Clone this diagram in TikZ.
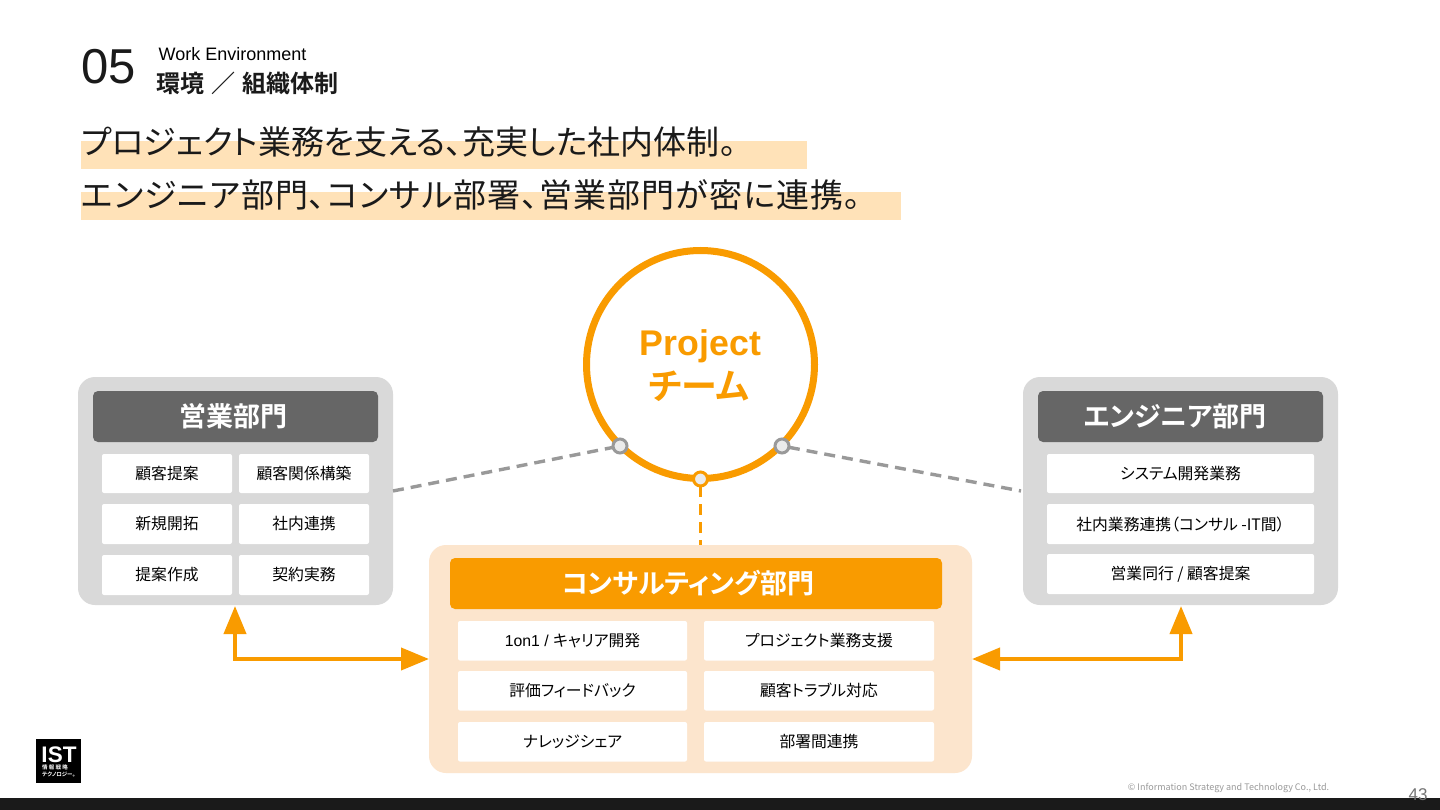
\documentclass[tikz,border=0pt]{standalone}
\usepackage{fontspec}
\setmainfont{Liberation Sans}
\newfontfamily\jp[RawFeature=+palt,BoldFont={Noto Sans CJK JP Bold}]{Noto Sans CJK JP}
\newfontfamily\jpw[BoldFont={Noto Sans CJK JP Bold}]{Noto Sans CJK JP}
\newfontfamily\jpls[RawFeature=+palt,LetterSpace=3.3]{Noto Sans CJK JP}
\usetikzlibrary{arrows.meta}
\definecolor{orng}{HTML}{F99B00}
\definecolor{hilite}{HTML}{FFE2B8}
\definecolor{peach}{HTML}{FCE5CD}
\definecolor{panelgray}{HTML}{D9D9D9}
\definecolor{headgray}{HTML}{666666}
\definecolor{dashgray}{HTML}{999999}
\definecolor{inkblack}{HTML}{1A1A1A}
\newcommand{\headtext}[2]{\raisebox{-1.5pt}{\hspace*{0pt}#1\hspace*{#2}}}
\tikzset{
  box/.style={anchor=north west,inner sep=0pt,outer sep=0pt,rounded corners=#1},
  box/.default=3pt,
  panel/.style={box=17pt,fill=panelgray},
  peachpanel/.style={box=17pt,fill=peach},
  head/.style={box=5pt,fill=headgray,text=white,font=\fontsize{27}{30}\jp\bfseries},
  headorange/.style={box=5pt,fill=orng,text=white,font=\fontsize{27}{30}\jp\bfseries},
  cell/.style={box=2pt,fill=white,text=black,font=\fontsize{15.8}{18}\jp},
  bigline/.style={anchor=base west,inner sep=0pt,text=inkblack,font=\fontsize{33}{36}\jp},
  grayconn/.style={draw=dashgray,line width=3.4pt,dash pattern=on 11pt off 7pt},
  orangeconn/.style={draw=orng,line width=3.4pt,dash pattern=on 11pt off 7pt},
  dblarrow/.style={draw=orng,line width=4pt,{Triangle[length=28pt,width=22pt]}-{Triangle[length=28pt,width=22pt]}},
  dot/.style={circle,minimum size=14pt,inner sep=0pt,outer sep=0pt,fill=black!8,line width=3pt},
  label/.style={inner sep=0pt},
}
\begin{document}
\begin{tikzpicture}[x=1pt,y=-1pt]
\useasboundingbox (0,0) rectangle (1440,810);
\fill[white] (0,0) rectangle (1440,810);
% highlights
\node[box=0pt,fill=hilite,minimum width=726pt,minimum height=28pt] (hl1) at (81,141) {};
\node[box=0pt,fill=hilite,minimum width=820pt,minimum height=28pt] (hl2) at (81,192) {};
% titles
\node[anchor=base west,inner sep=0pt,text=inkblack,font=\fontsize{49}{50}\selectfont] (num) at (81,84) {05};
\node[anchor=base west,inner sep=0pt,text=black,font=\fontsize{18}{20}\selectfont] (en) at (158.5,61) {Work Environment};
\node[anchor=base west,inner sep=0pt,text=inkblack,font=\fontsize{24}{25}\jpw\bfseries] (jt) at (156,92.5) {環境\hspace{7pt}／\hspace{7pt}組織体制};
\node[bigline] (l1) at (81,155) {プロジェクト業務を支える、充実した社内体制。};
\node[bigline,font=\fontsize{33}{36}\jpls] (l2) at (81,208) {エンジニア部門、コンサル部署、営業部門が密に連携。};
% panels
\node[panel,minimum width=315pt,minimum height=228pt] (lp) at (78,377) {};
\node[panel,minimum width=315pt,minimum height=228pt] (rp) at (1023,377) {};
\node[peachpanel,minimum width=543pt,minimum height=228pt] (cp) at (429,545) {};
\node[head,minimum width=285pt,minimum height=51pt] (lh) at (93,391) {\headtext{営業部門}{5pt}};
\node[head,minimum width=285pt,minimum height=51pt] (rh) at (1038,391) {\headtext{エンジニア部門}{11pt}};
\node[headorange,minimum width=492pt,minimum height=51pt] (ch) at (450,558) {\headtext{コンサルティング部門}{16pt}};
% left cells
\foreach \n/\xx/\yy/\hh/\t in {a/102/454/39/顧客提案,b/239/454/39/顧客関係構築,c/102/504/40/新規開拓,d/239/504/40/社内連携,e/102/555/40/提案作成,f/239/555/40/契約実務}
  \node[cell,minimum width=130pt,minimum height=\hh pt] (l\n) at (\xx,\yy) {\t};
% right cells
\node[cell,minimum width=267pt,minimum height=39pt] (ra) at (1047,454) {システム開発業務};
\node[cell,minimum width=267pt,minimum height=40pt] (rb) at (1047,504) {社内業務連携（コンサル -IT間）};
\node[cell,minimum width=267pt,minimum height=40pt] (rc) at (1047,554) {営業同行 / 顧客提案};
% centre cells
\foreach \n/\xx/\yy/\ww/\t in {a/458/621/229/{\fontspec{Liberation Sans}1on1 / }キャリア開発,b/704/621/230/プロジェクト業務支援,c/458/671/229/評価フィードバック,d/704/671/230/顧客トラブル対応,e/458/722/229/ナレッジシェア,f/704/722/230/部署間連携}
  \node[cell,minimum width=\ww pt,minimum height=39.5pt] (c\n) at (\xx,\yy) {\t};
% project circle
\node[circle,draw=orng,line width=7pt,fill=white,minimum size=228pt,inner sep=0pt] (pc) at (700.5,364.5) {};
\node[label,text=orng,font=\fontsize{35.7}{38}\selectfont\bfseries] (pt1) at (700.5,346) {Project};
\node[label,text=orng,font=\fontsize{36}{38}\jp\bfseries] (pt2) at (699,386) {チーム};
% connectors
\coordinate (lpe) at (393,491);
\coordinate (rpw) at (1021,491);
\coordinate (cpt) at (700.5,545);
\coordinate (las) at (235,606);
\coordinate (ras) at (1181,606);
% dots
\node[dot,draw=dashgray] (dl) at (620,446) {};
\node[dot,draw=dashgray] (dr) at (782,446) {};
\node[dot,draw=orng] (dc) at (700.5,479) {};
\draw[grayconn] (lpe) -- (dl);
\draw[grayconn] (dr) -- (rpw);
\draw[orangeconn] (dc) -- (cpt);
\draw[dblarrow] (las) |- (cp.west);
\draw[dblarrow] (ras) |- (cp.east);
% logo
\node[box=0pt,fill=black,minimum width=45pt,minimum height=44pt] (logo) at (36,739) {};
\node[label,text=white,font=\fontsize{22.5}{23}\selectfont\bfseries] (ist) at (59,755) {IST};
\node[label,anchor=west,text=white,font=\fontsize{5.5}{6}\jpw\bfseries] (lg1) at (42,767.5) {情 報 戦 略};
\node[label,anchor=west,text=white,font=\fontsize{5.5}{6}\jp\bfseries] (lg2) at (42,774.5) {テクノロジー。};
% footer
\fill[inkblack] (0,798) rectangle (1440,810);
\node[label,text=black!40,font=\fontsize{9}{10}\jpw] (copy) at (1228.5,788) {© Information Strategy and Technology Co., Ltd.};
\node[label,text=black!55,font=\fontsize{17}{18}\selectfont] (page) at (1418,795) {43};
\end{tikzpicture}
\end{document}
